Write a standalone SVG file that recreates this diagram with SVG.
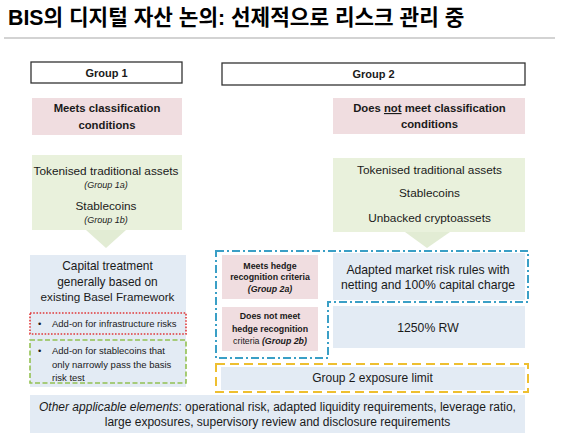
<svg xmlns="http://www.w3.org/2000/svg" width="562" height="443" viewBox="0 0 562 443">
<style>
text{font-family:"Liberation Sans","Noto Sans CJK KR",sans-serif;fill:#1a1a1a;text-anchor:middle}
.title{font-size:21.3px;font-weight:bold;fill:#000;text-anchor:start;font-family:"Liberation Sans","Noto Sans CJK KR",sans-serif}
.hdr{fill:#fff;stroke:#333;stroke-width:1.3}
.pink{fill:#f0dde0}
.green{fill:#e9f1dc}
.blue{fill:#e3ebf4}
.b{font-weight:bold}
.i{font-style:italic}
.small{font-size:9px}
.arrow{fill:#e2ecd4}
</style>
<text class="title" x="8" y="25">BIS의 디지털 자산 논의: 선제적으로 리스크 관리 중</text>
<line x1="4" y1="38" x2="555" y2="38" stroke="#c4c4c4" stroke-width="1.3"/>

<g id="connectors">
<polygon class="arrow" points="86,230 126,230 106,248"/>
<polygon class="arrow" points="405,232 450,232 427,248"/>
</g>

<g id="group1-header">
<rect class="hdr" x="31" y="62" width="151" height="21"/>
<text class="b" x="106.5" y="76.5" font-size="11">Group 1</text>
</g>
<g id="group2-header">
<rect class="hdr" x="222" y="63" width="303" height="22"/>
<text class="b" x="373.5" y="78" font-size="11">Group 2</text>
</g>

<g id="meets-classification">
<rect class="pink" x="32" y="98" width="150" height="37"/>
<text class="b" x="107" y="112" font-size="11.3">Meets classification</text>
<text class="b" x="107" y="129" font-size="11.3">conditions</text>
</g>
<g id="not-meets-classification">
<rect class="pink" x="333" y="98" width="192" height="36"/>
<text class="b" x="429.5" y="112" font-size="11.3">Does <tspan text-decoration="underline">not</tspan> meet classification</text>
<text class="b" x="429.5" y="128" font-size="11.3">conditions</text>
</g>

<g id="group1-assets">
<rect class="green" x="32" y="155" width="150" height="75"/>
<text x="106" y="175" font-size="11.8">Tokenised traditional assets</text>
<text class="i small" x="106" y="187.5" fill="#333">(Group 1a)</text>
<text x="106" y="210" font-size="11.8">Stablecoins</text>
<text class="i small" x="106" y="222.5" fill="#333">(Group 1b)</text>
</g>
<g id="group2-assets">
<rect class="green" x="333" y="158" width="192" height="74"/>
<text x="429.5" y="174" font-size="11.8">Tokenised traditional assets</text>
<text x="429.5" y="197" font-size="11.8">Stablecoins</text>
<text x="429.5" y="222" font-size="11.8">Unbacked cryptoassets</text>
</g>

<g id="capital-treatment">
<rect class="blue" x="30" y="255" width="156" height="132"/>
<text x="107.5" y="270" font-size="11.9">Capital treatment</text>
<text x="107.5" y="286" font-size="11.9">generally based on</text>
<text x="107.5" y="301" font-size="11.7">existing Basel Framework</text>
</g>
<g id="addon-infrastructure">
<rect x="30" y="313" width="156" height="21" fill="#e3ebf4" stroke="#e03a3a" stroke-width="1.6" stroke-dasharray="1.6,1.6"/>
<text x="38" y="327" font-size="9.5" style="text-anchor:start">•</text>
<text x="52" y="327" font-size="9.5" style="text-anchor:start">Add-on for infrastructure risks</text>
</g>
<g id="addon-stablecoins">
<rect x="30" y="340" width="156" height="43" fill="#e3ebf4" stroke="#93c152" stroke-width="1.6" stroke-dasharray="5,2.5"/>
<text x="38" y="354" font-size="9.5" style="text-anchor:start">•</text>
<text x="52" y="354" font-size="9.5" style="text-anchor:start">Add-on for stablecoins that</text>
<text x="52" y="368" font-size="9.5" style="text-anchor:start">only narrowly pass the basis</text>
<text x="52" y="381" font-size="9.5" style="text-anchor:start">risk test</text>
</g>

<g id="hedge-region">
<path d="M216,251 H528 V302 H328 V358 H216 Z" fill="none" stroke="#3a9fc6" stroke-width="2" stroke-dasharray="8,3,2,3"/>
</g>
<g id="meets-hedge">
<rect class="pink" x="222" y="255" width="96" height="44"/>
<text class="b" x="270" y="268.5" font-size="8.8">Meets hedge</text>
<text class="b" x="270" y="280" font-size="8.8">recognition criteria</text>
<text class="b i" x="270" y="291.5" font-size="8.8">(Group 2a)</text>
</g>
<g id="not-meets-hedge">
<rect class="pink" x="222" y="307" width="96" height="44"/>
<text class="b" x="270" y="319" font-size="8.8">Does not meet</text>
<text class="b" x="270" y="331.5" font-size="8.8">hedge recognition</text>
<text x="270" y="344" font-size="8.8">criteria <tspan class="b i">(Group 2b)</tspan></text>
</g>
<g id="market-risk-rules">
<rect class="blue" x="333" y="253" width="192" height="47"/>
<text x="428" y="273.5" font-size="12.2">Adapted market risk rules with</text>
<text x="428" y="288.5" font-size="12.2">netting and 100% capital charge</text>
</g>
<g id="rw-1250">
<rect class="blue" x="333" y="306" width="192" height="42"/>
<text x="428" y="332" font-size="12.2">1250% RW</text>
</g>

<g id="exposure-limit">
<rect class="blue" x="221" y="367" width="304" height="23"/>
<rect x="216" y="364" width="312" height="28" fill="none" stroke="#eebf30" stroke-width="2" stroke-dasharray="9,5"/>
<text x="372.5" y="382" font-size="12">Group 2 exposure limit</text>
</g>

<g id="other-elements">
<rect class="blue" x="30" y="395" width="495" height="38"/>
<text x="277.5" y="411" font-size="12"><tspan class="i">Other applicable elements</tspan>: operational risk, adapted liquidity requirements, leverage ratio,</text>
<text x="277.5" y="425.5" font-size="12">large exposures, supervisory review and disclosure requirements</text>
</g>
</svg>
